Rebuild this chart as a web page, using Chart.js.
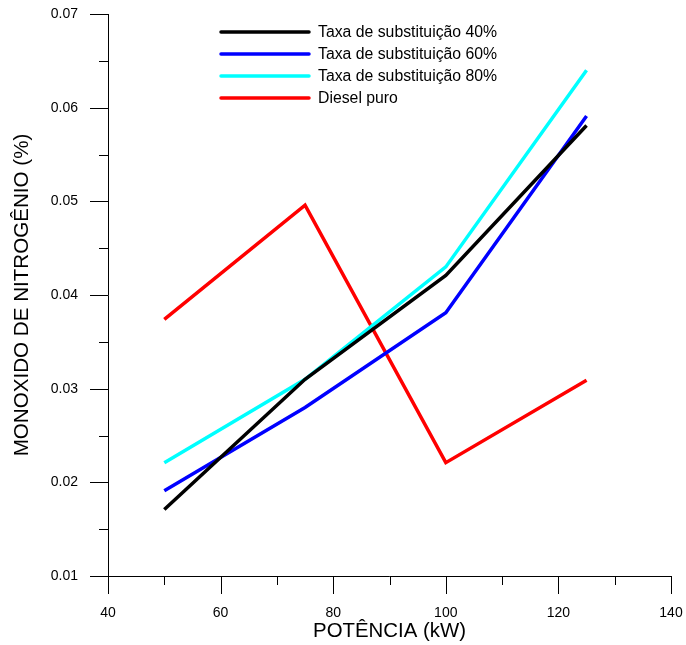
<!DOCTYPE html>
<html lang="pt">
<head>
    <meta charset="UTF-8">
    <title>Monoxido de nitrogênio x potência</title>
    <script src="https://cdn.jsdelivr.net/npm/chart.js@4.4.1/dist/chart.umd.min.js"></script>
    <style>
        body { margin: 0; background: #fff; }
        #wrap { width: 686px; height: 645px; }
    </style>
</head>
<body>
<div id="wrap"><canvas id="noChart"></canvas></div>
<script>
    // dados
    const potencia = [50, 75, 100, 125];
    const taxa40 = [0.0171, 0.0310, 0.0421, 0.0581];
    const taxa60 = [0.0191, 0.0280, 0.0381, 0.0591];
    const taxa80 = [0.0221, 0.0310, 0.0430, 0.0640];
    const dieselPuro = [0.0374, 0.0496, 0.0221, 0.0309];
    const xTicks = [40, 60, 80, 100, 120, 140];
    const yTicks = [0.01, 0.02, 0.03, 0.04, 0.05, 0.06, 0.07];

    const FONT = '"Liberation Sans", Arial, sans-serif';

    function serie(label, valores, cor) {
        return {
            label: label,
            data: potencia.map((x, i) => ({ x: x, y: valores[i] })),
            borderColor: cor,
            backgroundColor: cor,
            borderWidth: 3.5,
            pointRadius: 0,
            tension: 0
        };
    }

    // eixos com marcas maiores e menores, e legenda dentro do gráfico
    const eixosPlugin = {
        id: 'eixos',
        afterDraw(chart) {
            const ctx = chart.ctx;
            const xs = chart.scales.x, ys = chart.scales.y;
            const area = chart.chartArea;
            ctx.save();
            ctx.strokeStyle = '#000';
            ctx.lineWidth = 1;
            ctx.beginPath();
            ctx.moveTo(area.left + 0.5, area.top);
            ctx.lineTo(area.left + 0.5, area.bottom + 0.5);
            ctx.lineTo(area.right, area.bottom + 0.5);
            for (let v = 40; v <= 140; v += 10) {
                const px = Math.round(xs.getPixelForValue(v)) + 0.5;
                const len = v % 20 === 0 ? 18 : 9;
                ctx.moveTo(px, area.bottom);
                ctx.lineTo(px, area.bottom + len);
            }
            for (let k = 0; k <= 12; k++) {
                const v = 0.01 + k * 0.005;
                const py = Math.round(ys.getPixelForValue(v)) + 0.5;
                const len = k % 2 === 0 ? 18 : 9;
                ctx.moveTo(area.left, py);
                ctx.lineTo(area.left - len, py);
            }
            ctx.stroke();

            // legenda
            ctx.font = '15.8px ' + FONT;
            ctx.textBaseline = 'middle';
            ctx.fillStyle = '#000';
            chart.data.datasets.forEach((ds, i) => {
                const y = 32 + i * 22;
                ctx.strokeStyle = ds.borderColor;
                ctx.lineWidth = 3.5;
                ctx.lineCap = 'round';
                ctx.beginPath();
                ctx.moveTo(221, y);
                ctx.lineTo(309, y);
                ctx.stroke();
                ctx.fillText(ds.label, 318, y + 1);
            });
            ctx.restore();
        }
    };

    new Chart(document.getElementById('noChart'), {
        type: 'line',
        data: {
            datasets: [
                serie('Taxa de substituição 40%', taxa40, '#000000'),
                serie('Taxa de substituição 60%', taxa60, '#0000ff'),
                serie('Taxa de substituição 80%', taxa80, '#00ffff'),
                serie('Diesel puro', dieselPuro, '#ff0000')
            ]
        },
        options: {
            responsive: true,
            maintainAspectRatio: false,
            animation: false,
            layout: { padding: { left: 0, top: 14, right: 15, bottom: 0 } },
            plugins: {
                legend: { display: false },
                tooltip: { enabled: false }
            },
            scales: {
                x: {
                    type: 'linear',
                    min: 40,
                    max: 140,
                    afterBuildTicks: s => { s.ticks = xTicks.map(v => ({ value: v })); },
                    afterFit: s => { s.height = 69; s.paddingLeft = 0; s.paddingRight = 0; },
                    grid: { display: false, drawTicks: false },
                    border: { display: false },
                    ticks: {
                        padding: 29,
                        maxRotation: 0,
                        color: '#000',
                        font: { family: FONT, size: 14 }
                    },
                    title: {
                        display: true,
                        text: 'POTÊNCIA (kW)',
                        color: '#000',
                        font: { family: FONT, size: 20.4 },
                        padding: { top: 0, bottom: 1 }
                    }
                },
                y: {
                    min: 0.01,
                    max: 0.07,
                    afterBuildTicks: s => { s.ticks = yTicks.map(v => ({ value: v })); },
                    afterFit: s => { s.width = 108; s.paddingTop = 0; s.paddingBottom = 0; },
                    grid: { display: false, drawTicks: false },
                    border: { display: false },
                    ticks: {
                        padding: 30,
                        color: '#000',
                        font: { family: FONT, size: 14 },
                        callback: v => v.toFixed(2)
                    },
                    title: {
                        display: true,
                        text: 'MONOXIDO DE NITROGÊNIO (%)',
                        color: '#000',
                        font: { family: FONT, size: 20.6 },
                        padding: { top: 10, bottom: 0 }
                    }
                }
            }
        },
        plugins: [eixosPlugin]
    });
</script>
</body>
</html>
